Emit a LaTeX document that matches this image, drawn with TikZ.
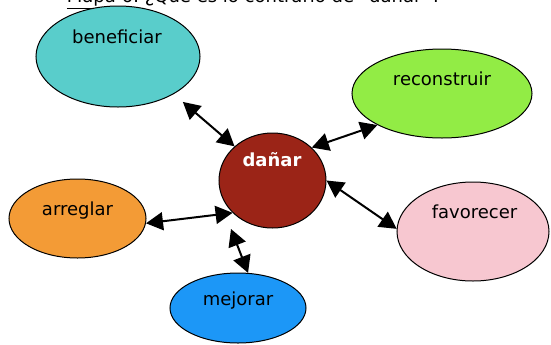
\documentclass[tikz,border=0pt]{standalone}
\usepackage{fontspec}
\setmainfont{DejaVu Sans}
\usetikzlibrary{shapes.geometric,arrows.meta}

\definecolor{benfill}{RGB}{89,205,203}
\definecolor{recfill}{RGB}{146,236,69}
\definecolor{danfill}{RGB}{155,36,23}
\definecolor{favfill}{RGB}{247,199,208}
\definecolor{arrfill}{RGB}{243,155,54}
\definecolor{mejfill}{RGB}{28,151,247}

\tikzset{every picture/.style={line width=0.75pt}}
\tikzset{
  bubble/.style={ellipse, draw=black, line width=0.75pt, inner sep=0pt},
  word/.style={anchor=base, inner sep=0pt, text=black, font=\fontsize{13.5}{16}\selectfont},
  link/.style={line width=1.5pt, {Triangle[length=12.75pt,width=13.5pt]}-{Triangle[length=12.75pt,width=13.5pt]}},
}

\begin{document}
\begin{tikzpicture}[x=0.75pt,y=0.75pt,yscale=-1,xscale=1]
\useasboundingbox (0,0) rectangle (551,344);
\clip (0,0) rectangle (551,344);

% Title
\node[word] (title) at (254,2.5) {\underline{Mapa 6:} ¿Qué es lo contrario de “dañar”?};

% Text Node
\node[bubble, fill=benfill, minimum width=123pt, minimum height=75.75pt] (ben) at (118,56.5) {};
\node[word] (bentxt) at (117,43) {beneficiar};
% Text Node
\node[bubble, fill=recfill, minimum width=135pt, minimum height=66.75pt] (rec) at (442,93.5) {};
\node[word] (rectxt) at (442,85) {reconstruir};
% Text Node
\node[bubble, fill=danfill, minimum width=80.25pt, minimum height=71.25pt] (dan) at (272.5,180.5) {};
\node[word, text=white, font=\fontsize{13.5}{16}\selectfont\bfseries] (dantxt) at (272,166.5) {dañar};
% Text Node
\node[bubble, fill=favfill, minimum width=114pt, minimum height=74.25pt] (fav) at (473,231.5) {};
\node[word] (favtxt) at (474.5,218.3) {favorecer};
% Text Node
\node[bubble, fill=arrfill, minimum width=102.75pt, minimum height=59.25pt] (arr) at (77.5,218.5) {};
\node[word] (arrtxt) at (77.5,215) {arreglar};
% Text Node
\node[bubble, fill=mejfill, minimum width=102pt, minimum height=52.5pt] (mej) at (238,308) {};
\node[word] (mejtxt) at (238,305) {mejorar};

% Connection
\draw[link, shorten <=9pt] (ben.-34) -- (dan.138);
% Connection
\draw[link] (rec.206) -- (dan.40);
% Connection
\draw[link] (dan.0) -- (fav.178);
% Connection
\draw[link] (arr.-4) -- (dan.219);
% Connection
\coordinate (mejend) at (231,229);
\draw[link] (mej.74) -- (mejend);

\end{tikzpicture}
\end{document}
